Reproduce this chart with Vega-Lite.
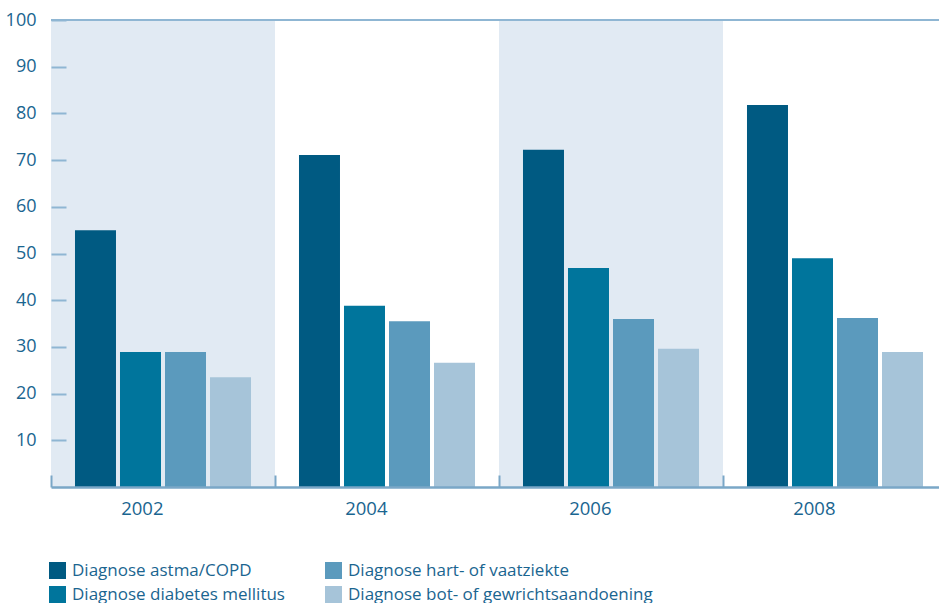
{
  "$schema": "https://vega.github.io/schema/vega-lite/v6.json",
  "width": 896,
  "height": 467,
  "autosize": {"type": "none"},
  "padding": {"left": 51, "top": 20, "right": 0, "bottom": 116},
  "config": {"view": {"stroke": null}, "font": "Open Sans"},
  "datasets": {
    "bars": [
      {"year": "2002", "cat": "Diagnose astma/COPD", "value": 55.0},
      {"year": "2002", "cat": "Diagnose diabetes mellitus", "value": 28.9},
      {"year": "2002", "cat": "Diagnose hart- of vaatziekte", "value": 28.9},
      {"year": "2002", "cat": "Diagnose bot- of gewrichtsaandoening", "value": 23.5},
      {"year": "2004", "cat": "Diagnose astma/COPD", "value": 71.1},
      {"year": "2004", "cat": "Diagnose diabetes mellitus", "value": 38.8},
      {"year": "2004", "cat": "Diagnose hart- of vaatziekte", "value": 35.5},
      {"year": "2004", "cat": "Diagnose bot- of gewrichtsaandoening", "value": 26.6},
      {"year": "2006", "cat": "Diagnose astma/COPD", "value": 72.2},
      {"year": "2006", "cat": "Diagnose diabetes mellitus", "value": 46.9},
      {"year": "2006", "cat": "Diagnose hart- of vaatziekte", "value": 36.0},
      {"year": "2006", "cat": "Diagnose bot- of gewrichtsaandoening", "value": 29.6},
      {"year": "2008", "cat": "Diagnose astma/COPD", "value": 81.8},
      {"year": "2008", "cat": "Diagnose diabetes mellitus", "value": 49.0},
      {"year": "2008", "cat": "Diagnose hart- of vaatziekte", "value": 36.2},
      {"year": "2008", "cat": "Diagnose bot- of gewrichtsaandoening", "value": 28.9}
    ]
  },
  "layer": [
    {
      "data": {"values": [{"year": "2002"}, {"year": "2006"}]},
      "mark": {"type": "rect", "color": "#e1eaf3"},
      "encoding": {
        "x": {"field": "year", "type": "nominal",
              "scale": {"domain": ["2002", "2004", "2006", "2008"], "paddingInner": 0, "paddingOuter": 0}}
      }
    },
    {
      "data": {"name": "bars"},
      "mark": {"type": "bar"},
      "encoding": {
        "x": {"field": "year", "type": "nominal",
              "axis": {"title": null, "zindex": 1, "domainColor": "#7aa7c7", "domainWidth": 2.5, "tickBand": "extent",
                       "tickSize": -12, "tickColor": "#7aa7c7", "tickWidth": 2, "labelFontSize": 18.5,
                       "labelColor": "#1a6590", "labelPadding": 33, "labelAngle": 0}},
        "xOffset": {"field": "cat", "type": "nominal",
                    "scale": {"domain": ["Diagnose astma/COPD", "Diagnose diabetes mellitus", "Diagnose hart- of vaatziekte", "Diagnose bot- of gewrichtsaandoening"],
                              "paddingInner": 0.089, "paddingOuter": 0.533}},
        "y": {"field": "value", "type": "quantitative",
              "scale": {"domain": [0, 100], "nice": false},
              "axis": {"title": null, "zindex": 1, "values": [10, 20, 30, 40, 50, 60, 70, 80, 90, 100], "domain": false, "grid": false,
                       "tickSize": -15, "tickColor": "#8fb6d3", "tickWidth": 2, "labelFontSize": 18,
                       "labelColor": "#1a6590", "labelPadding": 30}},
        "color": {"field": "cat", "type": "nominal",
                  "scale": {"domain": ["Diagnose astma/COPD", "Diagnose diabetes mellitus", "Diagnose hart- of vaatziekte", "Diagnose bot- of gewrichtsaandoening"],
                            "range": ["#005a82", "#00759c", "#5b9abd", "#a6c4d9"]},
                  "legend": {"title": null, "orient": "none", "legendX": -2, "legendY": 542, "columns": 2,
                             "symbolType": "square", "symbolSize": 289, "symbolStrokeWidth": 0, "labelFontSize": 17,
                             "labelLimit": 0, "labelColor": "#1a6590", "rowPadding": 6, "columnPadding": 40, "labelOffset": 6}}
      }
    },
    {
      "data": {"values": [{"v": 100}]},
      "mark": {"type": "rule", "color": "#8fb6d3", "strokeWidth": 2},
      "encoding": {"y": {"field": "v", "type": "quantitative"}}
    }
  ]
}
